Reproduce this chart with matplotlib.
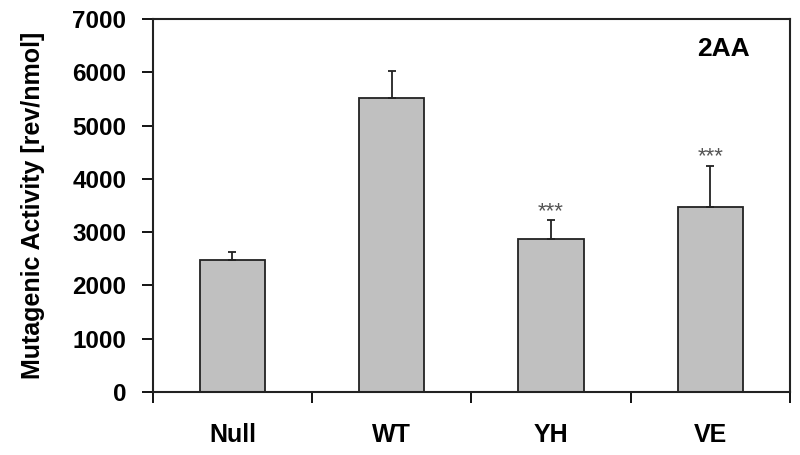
import numpy as np
import matplotlib.pyplot as plt

plt.rcParams['font.family'] = ['Liberation Sans', 'DejaVu Sans']
plt.rcParams['font.weight'] = 'bold'

# data
groups = ['Null', 'WT', 'YH', 'VE']
activity = [2470, 5520, 2880, 3480]
err_up = [160, 500, 350, 770]
marks = ['', '', '***', '***']

fig = plt.figure(figsize=(8, 4.55), dpi=100)
ax = fig.add_axes([0.191, 0.1385, 0.7965, 0.8195])

x = np.arange(len(groups))
ax.bar(x, activity, width=0.41, color='#c0c0c0', edgecolor='#222222', linewidth=1.3,
       yerr=[np.zeros(len(err_up)), err_up], capsize=3,
       error_kw=dict(ecolor='#222222', elinewidth=1.3, capthick=1.3))

for xi, v, e, m in zip(x, activity, err_up, marks):
    if m:
        ax.text(xi, v + e + 60, m, ha='center', va='baseline', fontsize=16,
                color='#555555', fontweight='normal')

ax.text(0.895, 0.92, '2AA', transform=ax.transAxes, ha='center', va='center',
        fontsize=19, fontweight='bold')

ax.set_xlim(-0.5, len(groups) - 0.5)
ax.set_ylim(0, 7000)
ax.set_yticks(np.arange(0, 7001, 1000))
ax.set_xticks(x)
ax.set_xticklabels(groups, fontsize=18, fontweight='bold')
ax.set_xticks(np.arange(-0.5, len(groups), 1), minor=True)
ax.tick_params(axis='x', which='major', length=0, pad=22)
ax.tick_params(axis='x', which='minor', length=8, width=1.3, direction='out')
ax.tick_params(axis='y', length=8, width=1.3, direction='out', labelsize=17.5, pad=11)
for lab in ax.get_yticklabels():
    lab.set_fontweight('bold')

for sp in ax.spines.values():
    sp.set_linewidth(1.5)
    sp.set_color('#222222')

ax.set_ylabel('Mutagenic Activity [rev/nmol]', fontsize=18, fontweight='bold', labelpad=20)

fig.savefig('out.png', dpi=100)
